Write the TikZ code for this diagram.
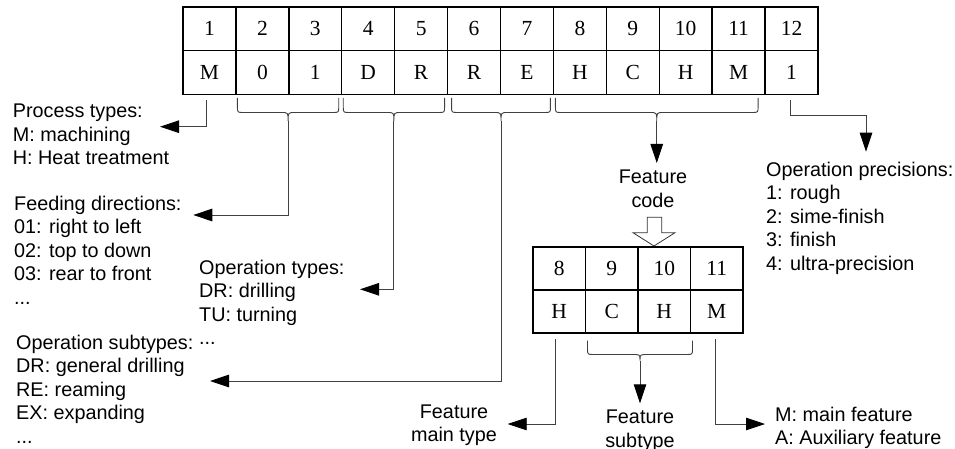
\documentclass[tikz,border=0pt]{standalone}
\usepackage{fontspec}
\usetikzlibrary{arrows.meta,calc}
\newfontfamily\arialf{Liberation Sans}
\newfontfamily\tnrf{Liberation Serif}
\tikzset{
  cell/.style={draw=black, line width=1.4pt, minimum width=52.92pt, minimum height=43.75pt,
    inner sep=0pt, outer sep=0pt, anchor=north west, font=\tnrf\fontsize{21.5}{25}\selectfont},
  fcell/.style={cell, minimum width=52.5pt, minimum height=43pt},
  conn/.style={line width=0.9pt, draw=black!75},
  arr/.style={conn, -{Triangle[length=19pt,width=12.5pt,color=black]}},
  lbl/.style={font=\arialf\fontsize{19.8}{23.4}\selectfont, align=left, anchor=north west, inner sep=0pt},
  clbl/.style={lbl, align=center, anchor=north},
  hollow/.style={draw=black!80, line width=0.8pt, fill=white}
}
\newcommand\codebrace[5]{%
  \draw[conn] let \p1=(#1), \p2=(#2), \n1={0.5*\x1+0.5*\x2} in
   (\x1,\y1) -- (\x1,\y1-#4pt+6pt) .. controls (\x1,\y1-#4pt) .. (\x1+6pt,\y1-#4pt)
   -- (\n1-7pt,\y1-#4pt) .. controls (\n1,\y1-#4pt) .. (\n1,\y1-#5pt) coordinate (#3)
   .. controls (\n1,\y1-#4pt) .. (\n1+7pt,\y1-#4pt)
   -- (\x2-6pt,\y1-#4pt) .. controls (\x2,\y1-#4pt) .. (\x2,\y1-#4pt+6pt) -- (\x2,\y1);
}
\begin{document}
\begin{tikzpicture}[x=1pt,y=-1pt]
\fill[white] (0,0) rectangle (955,449);
\useasboundingbox (0,0) rectangle (955,449);

% top code table
\foreach \i/\v in {1/M,2/0,3/1,4/D,5/R,6/R,7/E,8/H,9/C,10/H,11/M,12/1}{
  \node[cell] (n\i) at ({183+(\i-1)*52.917},7) {\i};
  \node[cell] (v\i) at ({183+(\i-1)*52.917},50.75) {\v};
}

% feature code table
\foreach \i/\v [count=\k from 0] in {8/H,9/C,10/H,11/M}{
  \node[fcell] (f\i) at ({533+\k*52.5},247) {\i};
  \node[fcell] (g\i) at ({533+\k*52.5},290) {\v};
}

% text blocks
\node[lbl] (ptypes) at (12.7,104) {Process types:\\M: machining\\H: Heat treatment};
\node[lbl] (fdir) at (14,196) {Feeding directions:\\01: right to left\\02: top to down\\03: rear to front\\...};
\node[lbl] (otypes) at (199,260) {Operation types:\\DR: drilling\\TU: turning\\...};
\node[lbl] (osub) at (16,335) {Operation subtypes:\\DR: general drilling\\RE: reaming\\EX: expanding\\...};
\node[clbl] (fcode) at (653,170) {Feature\\code};
\node[clbl] (fmain) at (454,404.5) {Feature\\main type};
\node[clbl] (fsub) at (640,410) {Feature\\subtype};
\node[lbl] (mfeat) at (775,406.5) {M: main feature\\A: Auxiliary feature};
\node[lbl] (oprec) at (766,162) {Operation precisions:\\1: rough\\2: sime-finish\\3: finish\\4: ultra-precision};

% arrow ends
\coordinate (ptin) at (160,126.7);
\coordinate (fdin) at (193.3,215);
\coordinate (otin) at (360,289.3);
\coordinate (osin) at (210,381);
\coordinate (fcin) at (656.5,163);
\coordinate (opin) at (866,151.7);
\coordinate (fmin) at (507.7,424);
\coordinate (fsin) at (640,403.3);
\coordinate (mfin) at (765,424);

% braces
\codebrace{$(v2.south west)+(1.5,3.5)$}{$(v3.south east)+(-3,3.5)$}{c23}{14.5}{23}
\codebrace{$(v4.south west)+(1.5,3.5)$}{$(v5.south east)+(-3,3.5)$}{c45}{14.5}{23}
\codebrace{$(v6.south west)+(4,3.5)$}{$(v7.south east)+(-3,3.5)$}{c67}{14.5}{23}
\codebrace{$(v8.south west)+(2,3.5)$}{$(v11.south east)+(-7,3.5)$}{c811}{14.5}{23}
\codebrace{$(g9.south west)+(2,7.5)$}{$(g10.south east)+(2,7.5)$}{c910}{14}{20}

% connectors
\draw[arr] ($(v1.south)+(-3,5.5)$) |- (ptin);
\draw[arr] (c23) |- (fdin);
\draw[arr] (c45) |- (otin);
\draw[arr] (c67) |- (osin);
\draw[arr] (c811) -- (c811 |- fcin);
\draw[arr] ($(v12.south)+(-1.5,5.5)$) -- ++(0,15) -| (opin);
\draw[arr] ($(g8.south)+(-3.5,6)$) |- (fmin);
\draw[arr] (c910) -- (c910 |- fsin);
\draw[arr] ($(g11.south)+(-1.75,6)$) |- (mfin);

% hollow arrow to the feature code table
\draw[hollow] (647.3,217.3) -- (661.7,217.3) -- (661.7,232.7) -- (675,232.7)
  -- (654,246) -- (633,232.7) -- (647.3,232.7) -- cycle;
\end{tikzpicture}
\end{document}
